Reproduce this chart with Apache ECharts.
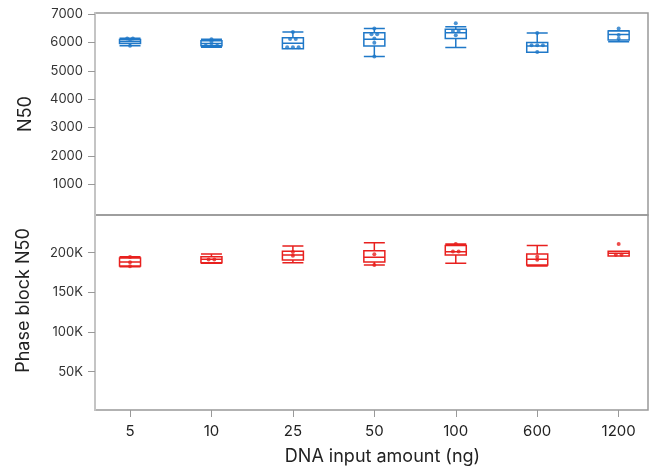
<!DOCTYPE html>
<html><head><meta charset="utf-8">
<script src="https://cdn.jsdelivr.net/npm/echarts@6/dist/echarts.min.js"></script>
<style>html,body{margin:0;padding:0;background:#fff}#c{width:651px;height:466px}</style>
</head><body><div id="c"></div>
<script>
const categories = ['5','10','25','50','100','600','1200'];
// [min, Q1, median, Q3, max]
const n50Box = [
  [5880, 5960, 6030, 6100, 6150],
  [5830, 5880, 5960, 6060, 6110],
  [5780, 5780, 5970, 6160, 6370],
  [5500, 5870, 6110, 6340, 6490],
  [5820, 6140, 6340, 6460, 6550],
  [5650, 5650, 5870, 6000, 6330],
  [6020, 6080, 6280, 6400, 6410]
];
const n50Points = [
  [6140, 6140, 6090, 5880],
  [6110, 6020, 5880, 5880, 5880],
  [6370, 6120, 6120, 5830, 5830, 5830],
  [6490, 6290, 6290, 6140, 5990, 5500],
  [6670, 6400, 6400, 6250],
  [6330, 5900, 5900, 5900, 5660],
  [6490, 6260, 6130]
];
const phaseBox = [
  [182400, 183300, 188300, 193300, 195000],
  [186700, 187400, 191700, 195000, 198400],
  [187400, 190800, 197100, 201800, 208500],
  [184500, 188300, 194200, 202500, 212600],
  [186700, 197100, 201300, 208900, 211000],
  [183300, 184500, 191700, 198400, 208900],
  [195900, 195900, 199300, 201800, 201800]
];
const phasePoints = [
  [194500, 188000, 183000],
  [191500, 191500],
  [201000, 196000],
  [198000, 184500],
  [211000, 201500, 201500],
  [195000, 191000],
  [211000, 197500, 197500]
];
const n50Ticks = [1000, 2000, 3000, 4000, 5000, 6000, 7000];
const phaseTicks = [50000, 100000, 150000, 200000];

const BLUE = '#1f78c8', RED = '#e8201e';
const FONT = 'Inter';

// spread equal values side by side (beeswarm-like), tolerance in value units
function swarm(groups, tol) {
  const out = [];
  groups.forEach((vals, i) => {
    const used = new Array(vals.length).fill(false);
    vals.forEach((v, j) => {
      if (used[j]) return;
      const cluster = [];
      vals.forEach((w, k) => { if (!used[k] && Math.abs(w - v) <= tol) { cluster.push(k); used[k] = true; } });
      cluster.forEach((k, r) => {
        out.push([i + (r - (cluster.length - 1) / 2) * 0.07, vals[k]]);
      });
    });
  });
  return out;
}

const chart = echarts.init(document.getElementById('c'));
const L = 130 - 40.7, W = 81.44 * 7;
const gridBase = { outerBoundsMode: 'none', containLabel: false };
chart.setOption({
  animation: false,
  textStyle: { fontFamily: FONT },
  grid: [
    Object.assign({ left: 95, right: 3, top: 13, height: 202, show: true, borderColor: '#999', borderWidth: 1.5, backgroundColor: 'transparent' }, gridBase),
    Object.assign({ left: 95, right: 3, top: 215, height: 195, show: true, borderColor: '#999', borderWidth: 1.5, backgroundColor: 'transparent' }, gridBase),
    Object.assign({ left: L, width: W, top: 13, height: 202 }, gridBase),
    Object.assign({ left: L, width: W, top: 215, height: 195 }, gridBase)
  ],
  xAxis: [
    { gridIndex: 0, type: 'value', show: false },
    { gridIndex: 1, type: 'value', name: 'DNA input amount (ng)', nameLocation: 'middle', nameGap: 38,
      nameTextStyle: { fontSize: 18, color: '#222', fontFamily: FONT, padding: [0, 0, 0, 22] },
      axisLine: { show: false }, axisTick: { show: false }, axisLabel: { show: false }, splitLine: { show: false } },
    { gridIndex: 2, type: 'category', data: categories, show: false },
    { gridIndex: 3, type: 'category', data: categories,
      axisLine: { show: false },
      axisTick: { show: true, alignWithLabel: true, length: 7, lineStyle: { color: '#999', width: 1 } },
      axisLabel: { fontSize: 15, color: '#222', margin: 14, fontFamily: FONT } },
    { gridIndex: 2, type: 'value', min: -0.5, max: 6.5, show: false },
    { gridIndex: 3, type: 'value', min: -0.5, max: 6.5, show: false }
  ],
  yAxis: [
    { gridIndex: 0, type: 'value', min: -80, max: 7035, name: 'N50', nameLocation: 'middle', nameGap: 60,
      nameTextStyle: { fontSize: 18, color: '#222', fontFamily: FONT },
      axisLine: { show: true, lineStyle: { color: '#c4c4c4', width: 2 } },
      axisTick: { show: true, customValues: n50Ticks, length: 7, lineStyle: { color: '#999' } },
      axisLabel: { customValues: n50Ticks, fontSize: 13, color: '#333', margin: 12, fontFamily: FONT,
        formatter: v => String(v) },
      splitLine: { show: false } },
    { gridIndex: 1, type: 'value', min: 1700, max: 247500, name: 'Phase block N50', nameLocation: 'middle', nameGap: 62,
      nameTextStyle: { fontSize: 18, color: '#222', fontFamily: FONT, padding: [0, 0, 0, 24] },
      axisLine: { show: true, lineStyle: { color: '#c4c4c4', width: 2 } },
      axisTick: { show: true, customValues: phaseTicks, length: 7, lineStyle: { color: '#999' } },
      axisLabel: { customValues: phaseTicks, fontSize: 13, color: '#333', margin: 12, fontFamily: FONT,
        formatter: v => (v / 1000) + 'K' },
      splitLine: { show: false } },
    { gridIndex: 2, type: 'value', min: -80, max: 7035, show: false },
    { gridIndex: 3, type: 'value', min: 1700, max: 247500, show: false }
  ],
  series: [
    { type: 'boxplot', xAxisIndex: 2, yAxisIndex: 2, data: n50Box, boxWidth: [21, 21],
      itemStyle: { color: 'rgba(255,255,255,0)', borderColor: BLUE, borderWidth: 1.5 } },
    { type: 'scatter', xAxisIndex: 4, yAxisIndex: 2, data: swarm(n50Points, 20), symbolSize: 4,
      itemStyle: { color: BLUE } },
    { type: 'boxplot', xAxisIndex: 3, yAxisIndex: 3, data: phaseBox, boxWidth: [21, 21],
      itemStyle: { color: 'rgba(255,255,255,0)', borderColor: RED, borderWidth: 1.5 } },
    { type: 'scatter', xAxisIndex: 5, yAxisIndex: 3, data: swarm(phasePoints, 500), symbolSize: 4,
      itemStyle: { color: RED } }
  ]
});
</script></body></html>
